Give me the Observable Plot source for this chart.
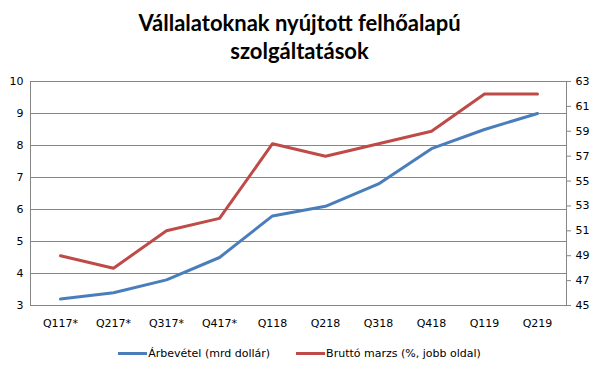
<!DOCTYPE html>
<html><head><meta charset="utf-8">
<script src="https://cdn.jsdelivr.net/npm/d3@7"></script>
<script src="https://cdn.jsdelivr.net/npm/@observablehq/plot@0.6"></script>
<style>
body{margin:0;background:#fff;width:599px;height:377px;overflow:hidden;}
#title{font-family:Lato,"Open Sans",sans-serif;font-weight:700;font-size:22px;line-height:28px;text-align:center;height:72px;padding-top:9px;box-sizing:border-box;color:#000;}
#legend{font-family:"DejaVu Sans",Verdana,sans-serif;font-size:11px;color:#000;display:flex;justify-content:center;gap:26px;margin-top:16px;}
#legend span.item{display:flex;align-items:center;}
#legend span.sw{display:inline-block;width:29px;height:3px;margin-right:1px;}
</style></head>
<body>
<div id="title">Vállalatoknak nyújtott felhőalapú<br>szolgáltatások</div>
<div id="chart"></div>
<div id="legend"></div>
<script>
const quarters = ["Q117*","Q217*","Q317*","Q417*","Q118","Q218","Q318","Q418","Q119","Q219"];
const revenue = [3.2,3.4,3.8,4.5,5.8,6.1,6.8,7.9,8.5,9.0];
const margin = [49,48,51,52,58,57,58,59,62,62];
const leftTicks = [3,4,5,6,7,8,9,10];
const rightTicks = [45,47,49,51,53,55,57,59,61,63];
const seriesNames = ["Árbevétel (mrd dollár)","Bruttó marzs (%, jobb oldal)"];
const colors = ["#4a7ebb","#be4b48"];

const L0=3, L1=10, R0=45, R1=63;
const toLeft = v => L0 + (v-R0)/(R1-R0)*(L1-L0);
const toRight = d => Math.round(R0 + (d-L0)*(R1-R0)/(L1-L0));

const revData = quarters.map((q,i)=>({q, v: revenue[i]}));
const marData = quarters.map((q,i)=>({q, v: toLeft(margin[i])}));

const chart = Plot.plot({
  width: 599, height: 259,
  marginTop: 9, marginBottom: 26, marginLeft: 30, marginRight: 33,
  style: {fontFamily: "'DejaVu Sans', Verdana, sans-serif", fontSize: "11px", color: "#000", background: "#fff"},
  x: {type: "point", domain: quarters, padding: 0.5},
  y: {domain: [L0, L1]},
  marks: [
    Plot.ruleY(leftTicks, {stroke: "#868686", strokeWidth: 1}),
    Plot.frame({stroke: "#868686"}),
    Plot.axisY({ticks: leftTicks, tickFormat: d3.format("d"), tickSize: 0, tickPadding: 7, label: null}),
    Plot.axisY({anchor: "right", ticks: rightTicks.map(toLeft), tickFormat: toRight, tickSize: 4, tickPadding: 5, stroke: "#868686", label: null}),
    Plot.axisX({tickSize: 0, tickPadding: 14, label: null}),
    Plot.line(revData, {x: "q", y: "v", stroke: colors[0], strokeWidth: 3}),
    Plot.line(marData, {x: "q", y: "v", stroke: colors[1], strokeWidth: 3})
  ]
});
document.getElementById("chart").appendChild(chart);

const leg = document.getElementById("legend");
seriesNames.forEach((n,i)=>{
  const it = document.createElement("span"); it.className="item";
  const sw = document.createElement("span"); sw.className="sw"; sw.style.background=colors[i];
  it.appendChild(sw); it.appendChild(document.createTextNode(n));
  leg.appendChild(it);
});
</script>
</body></html>
